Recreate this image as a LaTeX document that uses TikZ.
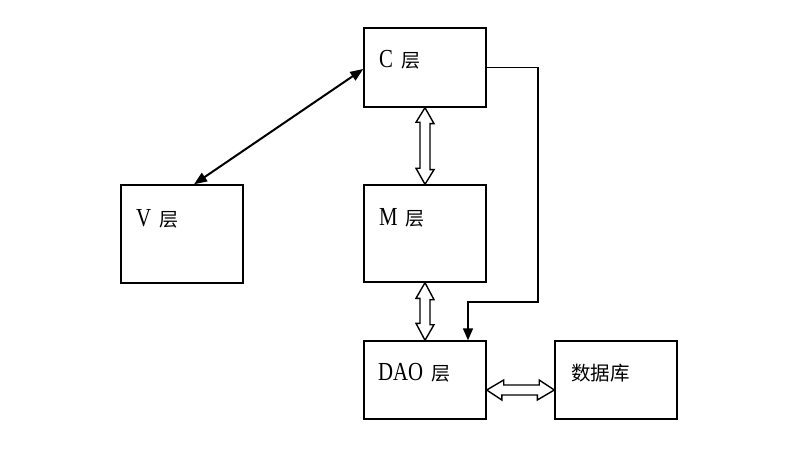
\documentclass[tikz,border=0pt]{standalone}
\usepackage{fontspec}
\newfontfamily\latf[FakeStretch=0.8]{Liberation Serif}
\newfontfamily\cjkf{Noto Sans CJK SC}
\usetikzlibrary{arrows.meta,calc}
\newcommand{\lbl}[2]{{\fontsize{26}{26}\selectfont\latf #1}\hspace{8pt}{\fontsize{19}{19}\selectfont\cjkf #2}}
\begin{document}
\begin{tikzpicture}[x=1pt,y=-1pt,
  layerbox/.style={draw,line width=1.4pt,minimum width=122pt,inner sep=0pt},
  txt/.style={anchor=west,inner sep=0pt},
  hollow/.style={draw,line width=1.4pt,fill=white,line join=miter},
  conn/.style={line width=1.6pt,-{Triangle[length=12pt,width=10pt]}}]
\useasboundingbox (0,0) rectangle (800,470);
\node[layerbox,minimum height=79pt] (C) at (425,67.5) {};
\node[layerbox,minimum height=97pt] (M) at (425,233.5) {};
\node[layerbox,minimum height=98pt] (V) at (182,234) {};
\node[layerbox,minimum height=78pt] (DAO) at (425,380) {};
\node[layerbox,minimum height=78pt] (DB) at (616,380) {};
\node[txt] (tC) at (379,60) {\lbl{C}{层}};
\node[txt] (tM) at (379,218) {\lbl{M}{层}};
\node[txt] (tV) at (136,219) {\lbl{V}{层}};
\node[txt] (tDAO) at (378,373) {\lbl{DAO}{层}};
\node[txt] (tDB) at (571,373) {{\fontsize{19.5}{19.5}\selectfont\cjkf 数据库}};
% V <-> C
\coordinate (vc1) at ($(V.north)+(12,0)$);
\coordinate (vc2) at (C.west |- 0,69);
\draw[line width=2pt,{Triangle[length=13pt,width=10pt]}-{Triangle[length=13pt,width=10pt]}] (vc1) -- (vc2);
% C -> DAO
\coordinate (k1) at (538,302);
\draw[conn] (C.east) -| (k1) -| ($(DAO.north)+(43,0)$);
% C <-> M hollow
\draw[hollow] (C.south) -- ++(9,16) -- ++(-4,0) -- ++(0,46) -- ++(4,0) -- (M.north)
  -- ++(-9,-16) -- ++(4,0) -- ++(0,-46) -- ++(-4,0) -- cycle;
% M <-> DAO hollow
\draw[hollow] (M.south) -- ++(9,17) -- ++(-4,0) -- ++(0,25) -- ++(4,0) -- (DAO.north)
  -- ++(-9,-17) -- ++(4,0) -- ++(0,-25) -- ++(-4,0) -- cycle;
% DAO <-> DB hollow
\coordinate (h1) at ($(DAO.east)+(0,10)$);
\coordinate (h2) at ($(DB.west)+(0,10)$);
\draw[hollow] (h1) -- ++(17,-10) -- ++(0,5) -- ++(35.5,0) -- ++(0,-5) -- (h2)
  -- ++(-17,10) -- ++(0,-5) -- ++(-35.5,0) -- ++(0,5) -- cycle;
\end{tikzpicture}
\end{document}
